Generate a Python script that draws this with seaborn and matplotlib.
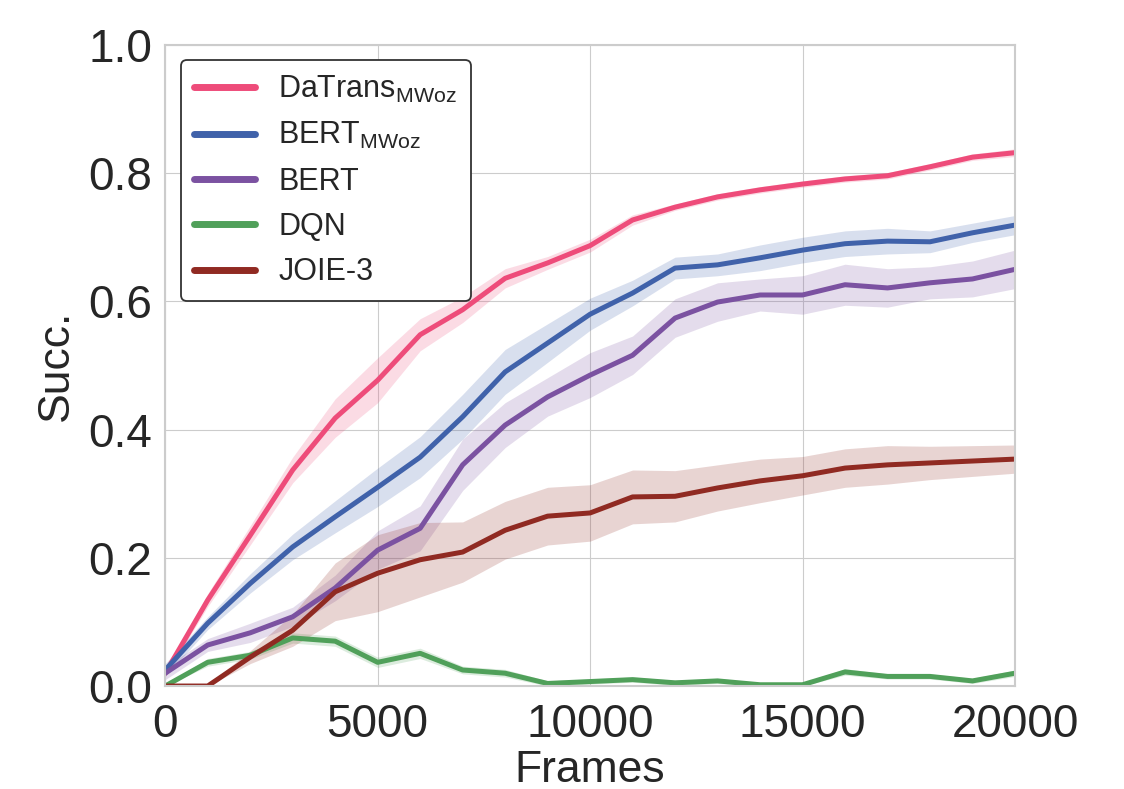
import numpy as np
import pandas as pd
import matplotlib
matplotlib.use("Agg")
import matplotlib.pyplot as plt
import seaborn as sns

frames = list(range(0, 21000, 1000))

datrans = [0.02, 0.134, 0.235, 0.337, 0.418, 0.477, 0.548, 0.587, 0.636, 0.66, 0.687,
           0.727, 0.747, 0.763, 0.774, 0.783, 0.791, 0.796, 0.81, 0.825, 0.832]
bert_mwoz = [0.025, 0.098, 0.16, 0.217, 0.264, 0.31, 0.357, 0.42, 0.49, 0.535, 0.58,
             0.613, 0.652, 0.657, 0.668, 0.68, 0.69, 0.694, 0.693, 0.707, 0.719]
bert = [0.02, 0.064, 0.083, 0.108, 0.153, 0.212, 0.246, 0.345, 0.407, 0.451, 0.485,
        0.516, 0.574, 0.599, 0.61, 0.61, 0.626, 0.621, 0.629, 0.635, 0.65]
dqn = [0.0, 0.037, 0.048, 0.075, 0.07, 0.037, 0.051, 0.025, 0.02, 0.004, 0.007,
       0.01, 0.005, 0.008, 0.002, 0.002, 0.022, 0.015, 0.015, 0.008, 0.02]
joie = [0.0, 0.0, 0.045, 0.087, 0.147, 0.176, 0.197, 0.209, 0.243, 0.265, 0.27,
        0.295, 0.296, 0.309, 0.32, 0.328, 0.34, 0.345, 0.348, 0.351, 0.354]

# half widths of the shaded bands
datrans_sd = [0.005, 0.01, 0.015, 0.02, 0.03, 0.035, 0.025, 0.02, 0.015, 0.01, 0.01,
              0.008, 0.005, 0.005, 0.005, 0.005, 0.005, 0.005, 0.005, 0.005, 0.006]
bert_mwoz_sd = [0.01, 0.01, 0.015, 0.02, 0.025, 0.03, 0.032, 0.035, 0.035, 0.03, 0.025,
                0.02, 0.017, 0.017, 0.02, 0.02, 0.02, 0.02, 0.017, 0.015, 0.015]
bert_sd = [0.01, 0.01, 0.015, 0.015, 0.02, 0.03, 0.035, 0.04, 0.035, 0.03, 0.035,
           0.03, 0.03, 0.03, 0.025, 0.03, 0.032, 0.03, 0.025, 0.028, 0.03]
dqn_sd = [0.003, 0.006, 0.006, 0.008, 0.008, 0.008, 0.008, 0.006, 0.006, 0.004, 0.004,
          0.004, 0.004, 0.004, 0.003, 0.003, 0.005, 0.004, 0.004, 0.004, 0.005]
joie_sd = [0.003, 0.003, 0.01, 0.025, 0.045, 0.06, 0.058, 0.047, 0.045, 0.045, 0.044,
           0.042, 0.04, 0.036, 0.034, 0.03, 0.03, 0.03, 0.026, 0.024, 0.022]

labels = [r'$\mathregular{DaTrans_{MWoz}}$', r'$\mathregular{BERT_{MWoz}}$',
          'BERT', 'DQN', 'JOIE-3']
colors = ['#ee4c7a', '#4062aa', '#7b52a1', '#50a05a', '#902a22']

sns.set_style('whitegrid', {'axes.edgecolor': '#cccccc', 'grid.color': '#cccccc'})
plt.rcParams['font.family'] = ['Liberation Sans', 'DejaVu Sans']
plt.rcParams['mathtext.fontset'] = 'custom'
plt.rcParams['mathtext.rm'] = 'Liberation Sans'

fig, ax = plt.subplots(figsize=(11.24, 7.89), dpi=100)
fig.subplots_adjust(left=0.147, right=0.903, top=0.943, bottom=0.1305)

series = [datrans, bert_mwoz, bert, dqn, joie]
spreads = [datrans_sd, bert_mwoz_sd, bert_sd, dqn_sd, joie_sd]
for vals, sd, lab, col in zip(series, spreads, labels, colors):
    df = pd.DataFrame({'Frames': frames, 'Succ.': vals})
    sns.lineplot(data=df, x='Frames', y='Succ.', ax=ax, color=col, linewidth=3.6, label=lab)
    lo = np.clip(np.array(vals) - np.array(sd), 0, 1)
    hi = np.array(vals) + np.array(sd)
    ax.fill_between(frames, lo, hi, color=col, alpha=0.2, linewidth=0)

ax.set_xlim(0, 20000)
ax.set_ylim(0, 1.0)
ax.set_xticks([0, 5000, 10000, 15000, 20000])
ax.set_yticks([0.0, 0.2, 0.4, 0.6, 0.8, 1.0])
ax.set_yticklabels(['0.0', '0.2', '0.4', '0.6', '0.8', '1.0'])
ax.tick_params(axis='both', labelsize=33, colors='#262626')
ax.tick_params(axis='x', pad=9)
ax.tick_params(axis='y', pad=6)
ax.set_xlabel('Frames', fontsize=32, color='#262626', labelpad=2)
ax.set_ylabel('Succ.', fontsize=32, color='#262626', labelpad=8)
for sp in ax.spines.values():
    sp.set_linewidth(1.5)

leg = ax.legend(loc='upper left', fontsize=22, frameon=True, handlelength=2.0,
                labelspacing=0.5, borderpad=0.45, handletextpad=0.75)
leg.get_frame().set_edgecolor('#333333')
leg.get_frame().set_linewidth(1.3)
leg.get_frame().set_alpha(1.0)
for line in leg.get_lines():
    line.set_linewidth(5)
for t in leg.get_texts():
    t.set_color('#262626')

fig.savefig('out.png', dpi=100)
